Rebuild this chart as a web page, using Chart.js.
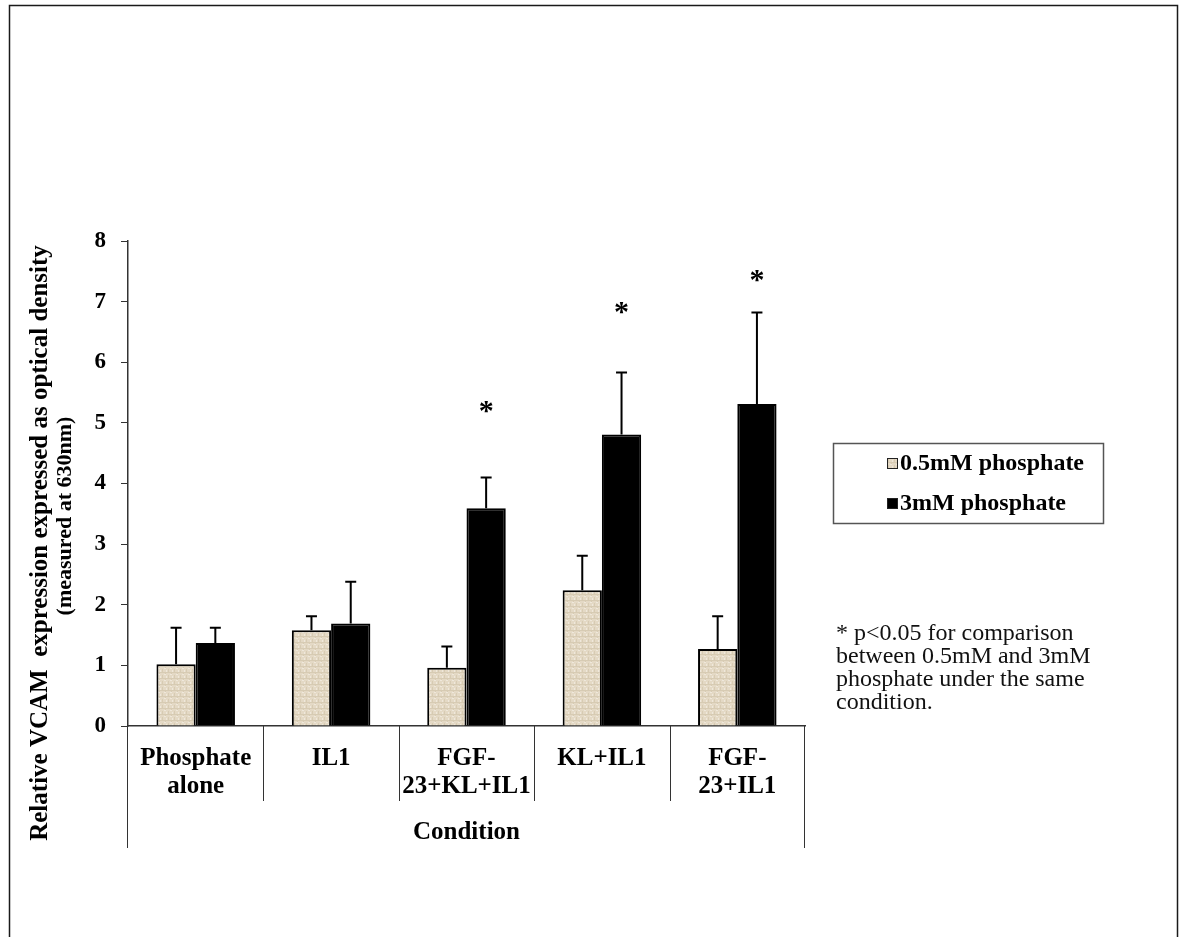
<!DOCTYPE html>
<html>
<head>
<meta charset="utf-8">
<script src="https://cdn.jsdelivr.net/npm/chart.js@4.4.1/dist/chart.umd.min.js"></script>
<style>
  html, body { margin: 0; padding: 0; background: #ffffff; overflow: hidden; }
  #wrap { position: relative; width: 1183px; height: 937px; }
</style>
</head>
<body>
<div id="wrap"><canvas id="chart" width="1183" height="937"></canvas></div>
<script>
// Conditions along the x axis (multi-line labels as they wrap in the figure)
const conditions = [
  ['Phosphate', 'alone'],
  'IL1',
  ['FGF-', '23+KL+IL1'],
  'KL+IL1',
  ['FGF-', '23+IL1']
];
const seriesNames = ['0.5mM phosphate', '3mM phosphate'];

// Mean relative VCAM expression (OD at 630 nm)
const lowPhosphate  = [1.02, 1.58, 0.96, 2.24, 1.27];
const highPhosphate = [1.37, 1.69, 3.59, 4.81, 5.31];

// Upper end of each error bar (mean + SD)
const lowPhosphateErrTop  = [1.62, 1.81, 1.31, 2.81, 1.81];
const highPhosphateErrTop = [1.62, 2.38, 4.10, 5.83, 6.82];

// Significance markers (p<0.05) over the 3mM bars, and the level they sit at
const significant = [false, false, true, true, true];
const markerLevel = [null, null, 5.26, 6.90, 7.42];

const yTicks = [0, 1, 2, 3, 4, 5, 6, 7, 8];

const SERIF = '"Liberation Serif", "Times New Roman", Times, serif';

// Beige woven-looking fill used for the 0.5mM bars
function makeBeigePattern() {
  const c = document.createElement('canvas');
  c.width = 6; c.height = 6;
  const g = c.getContext('2d');
  g.fillStyle = '#e4d9c5';
  g.fillRect(0, 0, 6, 6);
  g.fillStyle = '#d7cbb3';
  g.fillRect(0, 0, 6, 1);
  g.fillRect(0, 3, 1, 3);
  g.fillRect(3, 0, 1, 2);
  g.fillStyle = '#efe8db';
  g.fillRect(2, 2, 2, 1);
  g.fillRect(4, 4, 1, 2);
  return g.createPattern(c, 'repeat');
}
const ctx0 = document.getElementById('chart').getContext('2d');
const beige = makeBeigePattern();

// Outer frame around the whole figure
const framePlugin = {
  id: 'frame',
  afterDraw(chart) {
    const ctx = chart.ctx;
    ctx.save();
    ctx.strokeStyle = '#1a1a1a';
    ctx.lineWidth = 1.5;
    ctx.strokeRect(9.5, 5.5, 1168, 960);
    ctx.restore();
  }
};

// Table-style divider lines beneath the category axis
const tableLinesPlugin = {
  id: 'tableLines',
  afterDraw(chart) {
    const { ctx, chartArea } = chart;
    const x = chart.scales.x;
    ctx.save();
    ctx.strokeStyle = '#333';
    ctx.lineWidth = 1;
    for (let i = 1; i < conditions.length; i++) {
      const px = Math.round((x.getPixelForValue(i - 1) + x.getPixelForValue(i)) / 2) + 0.5;
      ctx.beginPath();
      ctx.moveTo(px, chartArea.bottom);
      ctx.lineTo(px, 801);
      ctx.stroke();
    }
    [chartArea.left, chartArea.right].forEach(px => {
      ctx.beginPath();
      ctx.moveTo(Math.round(px) - 0.5, chartArea.bottom);
      ctx.lineTo(Math.round(px) - 0.5, 848);
      ctx.stroke();
    });
    ctx.restore();
  }
};

// Upward error bars and significance asterisks
const errorBarPlugin = {
  id: 'errorBars',
  afterDatasetsDraw(chart) {
    const ctx = chart.ctx;
    const y = chart.scales.y;
    const tops = [lowPhosphateErrTop, highPhosphateErrTop];
    ctx.save();
    ctx.strokeStyle = '#000';
    ctx.lineWidth = 2;
    chart.data.datasets.forEach((ds, di) => {
      const meta = chart.getDatasetMeta(di);
      meta.data.forEach((bar, i) => {
        const yTop = y.getPixelForValue(tops[di][i]);
        ctx.beginPath();
        ctx.moveTo(bar.x, bar.y);
        ctx.lineTo(bar.x, yTop);
        ctx.moveTo(bar.x - 5.5, yTop);
        ctx.lineTo(bar.x + 5.5, yTop);
        ctx.stroke();
      });
    });
    // asterisks over the 3mM bars
    const highMeta = chart.getDatasetMeta(1);
    ctx.fillStyle = '#000';
    ctx.font = 'bold 30px ' + SERIF;
    ctx.textAlign = 'center';
    ctx.textBaseline = 'alphabetic';
    const m = ctx.measureText('*');
    const mid = (m.actualBoundingBoxAscent - m.actualBoundingBoxDescent) / 2;
    significant.forEach((sig, i) => {
      if (!sig) return;
      const bar = highMeta.data[i];
      ctx.fillText('*', bar.x, y.getPixelForValue(markerLevel[i]) + mid);
    });
    ctx.restore();
  }
};

// Two-line rotated y-axis title
const yTitlePlugin = {
  id: 'yTitle',
  afterDraw(chart) {
    const ctx = chart.ctx;
    ctx.save();
    ctx.fillStyle = '#000';
    ctx.font = 'bold 25px ' + SERIF;
    ctx.textAlign = 'center';
    ctx.textBaseline = 'middle';
    ctx.translate(41, 543);
    ctx.rotate(-Math.PI / 2);
    ctx.fillText('Relative VCAM  expression expressed as optical density', 0, 0);
    ctx.restore();
    ctx.save();
    ctx.fillStyle = '#000';
    ctx.font = 'bold 22px ' + SERIF;
    ctx.textAlign = 'center';
    ctx.textBaseline = 'middle';
    ctx.translate(65, 516);
    ctx.rotate(-Math.PI / 2);
    ctx.fillText('(measured at 630nm)', 0, 0);
    ctx.restore();
  }
};

// Boxed legend and the footnote on the right
const sideTextPlugin = {
  id: 'sideText',
  afterDraw(chart) {
    const ctx = chart.ctx;
    ctx.save();
    ctx.strokeStyle = '#555';
    ctx.lineWidth = 1.5;
    ctx.strokeRect(833.5, 443.5, 270, 80);
    ctx.font = 'bold 24px ' + SERIF;
    ctx.textBaseline = 'middle';
    ctx.textAlign = 'left';
    const rows = [463, 503];
    chart.data.datasets.forEach((ds, i) => {
      const cy = rows[i];
      ctx.fillStyle = ds.backgroundColor;
      ctx.fillRect(887, cy - 5, 11, 11);
      ctx.strokeStyle = '#222';
      ctx.lineWidth = 1;
      ctx.strokeRect(887.5, cy - 4.5, 10, 10);
      ctx.fillStyle = '#000';
      ctx.fillText(ds.label, 900, cy + 1);
    });
    ctx.font = '24px ' + SERIF;
    ctx.fillStyle = '#111';
    const note = ['* p<0.05 for comparison', 'between 0.5mM and 3mM', 'phosphate under the same', 'condition.'];
    note.forEach((t, i) => ctx.fillText(t, 836, 634 + i * 23));
    ctx.restore();
  }
};

new Chart(ctx0, {
  type: 'bar',
  data: {
    labels: conditions,
    datasets: [
      {
        label: seriesNames[0],
        data: lowPhosphate,
        backgroundColor: beige,
        borderColor: '#000',
        borderWidth: 2,
        categoryPercentage: 0.58,
        barPercentage: 1.0
      },
      {
        label: seriesNames[1],
        data: highPhosphate,
        backgroundColor: '#000',
        borderColor: '#000',
        borderWidth: 2,
        categoryPercentage: 0.58,
        barPercentage: 1.0
      }
    ]
  },
  options: {
    responsive: false,
    animation: false,
    devicePixelRatio: 1,
    layout: { padding: { left: 0, right: 378, top: 241, bottom: 0 } },
    plugins: {
      legend: { display: false },
      tooltip: { enabled: false },
      title: { display: false }
    },
    scales: {
      y: {
        min: 0,
        max: 8,
        afterFit(s) { s.width = 128; },
        afterBuildTicks(s) { s.ticks = yTicks.map(v => ({ value: v })); },
        border: { display: true, color: '#333', width: 1.5 },
        grid: { drawOnChartArea: false, drawTicks: true, tickLength: 7, color: '#333', lineWidth: 1 },
        ticks: {
          color: '#000',
          padding: 15,
          font: { family: SERIF, size: 23, weight: 'bold' }
        }
      },
      x: {
        offset: true,
        afterFit(s) { s.height = 211; },
        border: { display: true, color: '#333', width: 1.5 },
        grid: { display: false },
        ticks: {
          color: '#000',
          padding: 11,
          maxRotation: 0,
          minRotation: 0,
          autoSkip: false,
          font: { family: SERIF, size: 25, weight: 'bold', lineHeight: 1.12 }
        },
        title: {
          display: true,
          text: 'Condition',
          color: '#000',
          font: { family: SERIF, size: 25, weight: 'bold', lineHeight: 1.2 },
          padding: { top: 0, bottom: 89 }
        }
      }
    }
  },
  plugins: [framePlugin, tableLinesPlugin, errorBarPlugin, yTitlePlugin, sideTextPlugin]
});
</script>
</body>
</html>
